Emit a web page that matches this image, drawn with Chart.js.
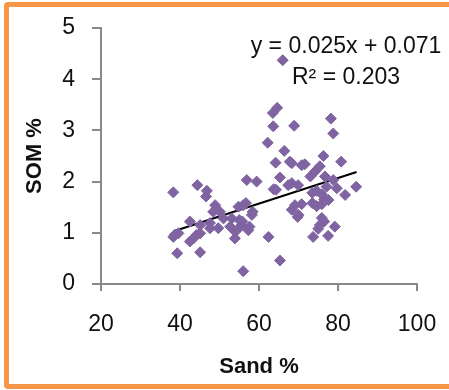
<!DOCTYPE html>
<html>
<head>
<meta charset="utf-8">
<script src="https://cdn.jsdelivr.net/npm/chart.js@4"></script>
<style>
  body { margin: 0; background: #fff; }
  #wrap { position: relative; width: 449px; height: 390px; overflow: hidden; }
  #frame {
    position: absolute; left: 4px; top: 2px; width: 452px; height: 387px;
    box-sizing: border-box; border: 5px solid #F79646; border-radius: 4px;
    pointer-events: none;
  }
</style>
</head>
<body>
<div id="wrap">
  <canvas id="somChart" width="449" height="390"></canvas>
  <div id="frame"></div>
</div>
<script>
// Sand % (x) and SOM % (y)
const sandX = [
  38.3, 38.3, 38.7, 39.6, 39.3, 42.5, 42.5, 43.4, 44.2, 45.1,
  44.4, 45.1, 45.1, 46.8, 46.6, 47.6, 47.6, 48.4, 48.9, 49.7,
  50.1, 51.0, 52.7, 53.1, 53.5, 53.9, 54.4, 54.8, 55.0, 55.6,
  55.8, 56.0, 56.7, 56.0, 56.9, 57.3, 57.6, 58.2, 58.4, 59.4,
  62.2, 62.4, 63.5, 64.6, 63.6, 64.2, 63.7, 64.3, 65.3, 65.3,
  66.0, 66.4, 67.8, 68.3, 68.9, 67.4, 68.3, 69.9, 68.3, 69.1,
  70.0, 69.8, 70.8, 71.6, 70.8, 73.0, 74.2, 75.4, 76.3, 76.7,
  73.5, 74.6, 75.9, 76.5, 75.9, 74.6, 73.5, 73.7, 75.9, 76.5,
  75.4, 75.0, 77.5, 78.2, 78.8, 78.8, 79.7, 80.8, 79.2, 81.8,
  84.6, 77.1, 77.6
];
const somY = [
  1.79, 0.92, 0.96, 0.99, 0.60, 1.22, 0.83, 0.89, 0.96, 0.99,
  1.93, 1.15, 0.62, 1.82, 1.71, 1.19, 1.09, 1.41, 1.54, 1.09,
  1.41, 1.28, 1.12, 1.28, 1.06, 0.89, 1.05, 1.51, 1.25, 1.15,
  1.22, 1.54, 1.58, 0.25, 2.03, 1.05, 1.12, 1.35, 1.41, 2.00,
  2.76, 0.92, 3.34, 3.44, 3.08, 2.37, 1.85, 1.84, 2.08, 0.46,
  4.37, 2.60, 2.39, 2.36, 3.09, 1.93, 1.97, 1.93, 1.45, 1.54,
  1.35, 1.31, 2.32, 2.34, 1.56, 2.10, 2.20, 2.30, 2.50, 2.10,
  1.78, 1.82, 1.75, 1.65, 1.56, 1.52, 1.58, 0.92, 1.29, 1.22,
  1.15, 1.08, 0.94, 3.23, 2.94, 2.03, 1.87, 2.39, 1.12, 1.74,
  1.90, 1.90, 1.64
];

// linear trend shown on the chart
const trendSlope = 0.025;
const trendIntercept = 0.071;
const trendRange = [38.4, 84.7];
const equationLines = ['y = 0.025x + 0.071', 'R\u00B2 = 0.203'];

const xTicks = [20, 40, 60, 80, 100];
const yTicks = [0, 1, 2, 3, 4, 5];

document.addEventListener('DOMContentLoaded', function () {
    const ctx = document.getElementById('somChart').getContext('2d');

    const points = sandX.map((x, i) => ({ x: x, y: somY[i] }));
    const trend = trendRange.map(x => ({ x: x, y: trendSlope * x + trendIntercept }));

    const tickFont = { family: '"Liberation Sans", Arial, sans-serif', size: 23 };
    const titleFont = { family: '"Liberation Sans", Arial, sans-serif', size: 22, weight: 'bold' };

    // writes the trendline equation in the top right
    const equationLabel = {
        id: 'equationLabel',
        afterDraw(chart) {
            const c = chart.ctx;
            c.save();
            c.font = '23px "Liberation Sans", Arial, sans-serif';
            c.fillStyle = '#111';
            c.textAlign = 'center';
            c.textBaseline = 'middle';
            c.fillText(equationLines[0], 346, 47);
            c.fillText(equationLines[1], 346, 78);
            c.restore();
        }
    };

    new Chart(ctx, {
        type: 'scatter',
        data: {
            datasets: [{
                label: 'SOM %',
                data: points,
                pointStyle: 'rectRot',
                pointRadius: 5.5,
                pointHoverRadius: 5.5,
                backgroundColor: '#8064A2',
                borderColor: '#8064A2',
                borderWidth: 1
            }, {
                type: 'line',
                label: 'Linear',
                data: trend,
                borderColor: '#000',
                borderWidth: 2,
                pointRadius: 0,
                fill: false
            }]
        },
        options: {
            responsive: false,
            animation: false,
            layout: { padding: { left: 0, top: 28, right: 32, bottom: 0 } },
            plugins: {
                legend: { display: false },
                tooltip: { enabled: false }
            },
            scales: {
                x: {
                    type: 'linear',
                    min: 20,
                    max: 100,
                    afterBuildTicks: axis => { axis.ticks = xTicks.map(v => ({ value: v })); },
                    afterFit: axis => { axis.height = 106; axis.paddingLeft = 0; axis.paddingRight = 0; },
                    grid: { drawOnChartArea: false, drawTicks: true, tickLength: 7, color: '#898989', lineWidth: 2 },
                    border: { color: '#898989', width: 2 },
                    ticks: { font: tickFont, color: '#111', padding: 20, maxRotation: 0 },
                    title: { display: true, text: 'Sand %', font: titleFont, color: '#111', padding: { bottom: 10 } }
                },
                y: {
                    type: 'linear',
                    min: 0,
                    max: 5,
                    afterBuildTicks: axis => { axis.ticks = yTicks.map(v => ({ value: v })); },
                    afterFit: axis => { axis.width = 101; axis.paddingTop = 0; axis.paddingBottom = 0; },
                    grid: { drawOnChartArea: false, drawTicks: true, tickLength: 9, color: '#898989', lineWidth: 2 },
                    border: { color: '#898989', width: 2 },
                    ticks: { font: tickFont, color: '#111', padding: 17 },
                    title: { display: true, text: 'SOM %', font: titleFont, color: '#111', padding: { top: 22 } }
                }
            }
        },
        plugins: [equationLabel]
    });
});
</script>
</body>
</html>
